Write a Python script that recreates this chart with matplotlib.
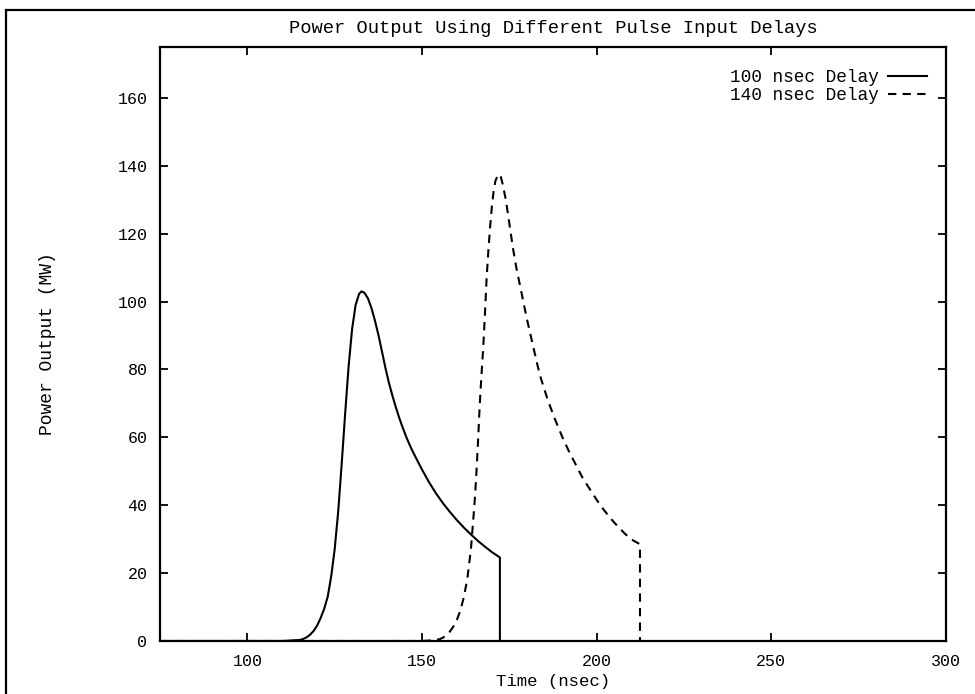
import matplotlib
matplotlib.use("Agg")
import matplotlib.pyplot as plt
from matplotlib.patches import Rectangle

# 100 nsec delay pulse
t_100 = [75, 110, 115, 116, 117, 118, 119, 120, 121, 122, 123, 124, 125, 126, 127,
         128, 129, 130, 131, 132, 132.7, 133.5, 134.5, 135.5, 136.5, 137.5, 138.5,
         139.5, 140.5, 141.5, 142.5, 143.5, 144.5, 145.5, 146.5, 147.5, 148.5, 150,
         152, 154, 156, 158, 160, 162, 164, 166, 168, 170, 172.3, 172.3]
p_100 = [0, 0, 0.3, 0.6, 1.1, 1.9, 3, 4.6, 6.8, 9.5, 13, 19, 27, 38, 52,
         67, 81, 92, 99, 102.3, 103, 102.6, 101, 98.2, 94.5, 90.3, 85.5,
         80.6, 76.2, 72.4, 68.9, 65.7, 62.8, 60.1, 57.7, 55.5, 53.5, 50.5,
         46.8, 43.5, 40.6, 38, 35.6, 33.4, 31.4, 29.5, 27.8, 26.2, 24.6, 0]

# 140 nsec delay pulse
t_140 = [75, 150, 153, 155, 156, 157, 158, 159, 160, 161, 162, 163, 164, 165, 165.5,
         166, 166.5, 167, 167.5, 168, 168.5, 169, 169.5, 170, 170.5, 171, 171.8,
         172.5, 173, 174, 175, 176, 177, 178, 179, 180, 181, 182, 183, 184, 186,
         188, 190, 192, 194, 196, 198, 200, 202, 204, 206, 208, 210, 212.4, 212.4]
p_140 = [0, 0, 0.2, 0.5, 1, 1.7, 2.8, 4.3, 6.3, 9, 13, 18.5, 27, 40, 48,
         58, 69, 78, 86, 96, 107, 115, 122, 128, 132.5, 135.5, 137.5,
         137, 135, 130, 123, 116, 110, 105, 100, 95, 90.5, 86, 81.5, 77.5, 71,
         65.5, 60.5, 56, 52, 48, 44.8, 41.6, 38.7, 36.1, 33.8, 31.7, 29.9, 28.5, 0]

labels = ["100 nsec Delay", "140 nsec Delay"]
x_ticks = [100, 150, 200, 250, 300]
y_ticks = [0, 20, 40, 60, 80, 100, 120, 140, 160]

plt.rcParams['font.family'] = ['Liberation Mono', 'DejaVu Sans Mono']

fig = plt.figure(figsize=(9.75, 6.94), dpi=100)
ax = fig.add_axes([160 / 975, 53 / 694, 786 / 975, 594 / 694])

# outer frame of the scanned page (right and bottom edges run off the page)
fig.patches.append(Rectangle((6 / 975, -0.2), 1.2, 1.2 - 10 / 694,
                             transform=fig.transFigure, fill=False,
                             edgecolor='black', linewidth=1.6))

ax.plot(t_100, p_100, color='black', linewidth=1.5, label=labels[0])
ax.plot(t_140, p_140, color='black', linewidth=1.5, linestyle=(0, (4, 3)),
        label=labels[1])

ax.set_xlim(75, 300)
ax.set_ylim(0, 175)
ax.set_xticks(x_ticks)
ax.set_yticks(y_ticks)
ax.tick_params(direction='in', length=6, width=1.3, top=True, right=True,
               labelsize=12, pad=9)
for s in ax.spines.values():
    s.set_linewidth(1.6)

ax.set_title("Power Output Using Different Pulse Input Delays", fontsize=13.5, pad=10)
ax.set_xlabel("Time (nsec)", fontsize=12.5, labelpad=4)
ax.set_ylabel("Power Output (MW)", fontsize=13, labelpad=44)

ax.legend(loc='upper right', bbox_to_anchor=(0.985, 0.975), markerfirst=False,
          frameon=False, fontsize=12.8, handlelength=2.2, handletextpad=0.5,
          labelspacing=0.05, borderaxespad=0)

fig.savefig("out.png", dpi=100)
